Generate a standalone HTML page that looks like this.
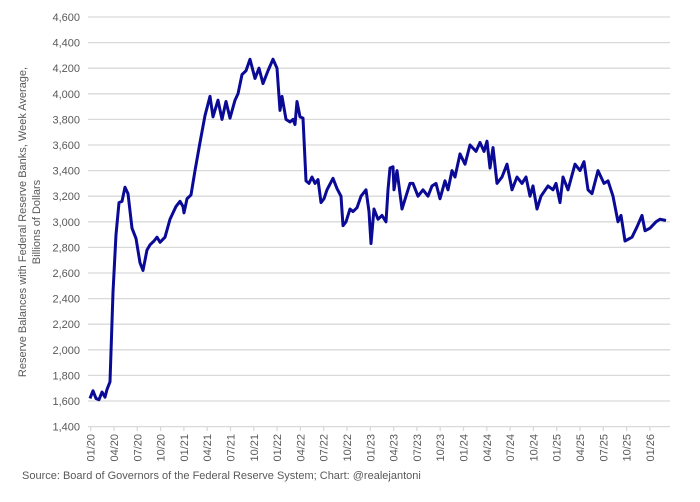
<!DOCTYPE html>
<html><head><meta charset="utf-8"><style>
html,body{margin:0;padding:0;background:#fff;}
svg text{font-family:"Liberation Sans",sans-serif;fill:#595959;}
</style></head><body>
<svg width="700" height="497" xmlns="http://www.w3.org/2000/svg">
<g stroke="#d9d9d9" stroke-width="1.3">
<line x1="88" x2="670" y1="17" y2="17"/><line x1="88" x2="670" y1="42.6" y2="42.6"/><line x1="88" x2="670" y1="68.2" y2="68.2"/><line x1="88" x2="670" y1="93.8" y2="93.8"/><line x1="88" x2="670" y1="119.4" y2="119.4"/><line x1="88" x2="670" y1="145" y2="145"/><line x1="88" x2="670" y1="170.6" y2="170.6"/><line x1="88" x2="670" y1="196.2" y2="196.2"/><line x1="88" x2="670" y1="221.8" y2="221.8"/><line x1="88" x2="670" y1="247.4" y2="247.4"/><line x1="88" x2="670" y1="273" y2="273"/><line x1="88" x2="670" y1="298.6" y2="298.6"/><line x1="88" x2="670" y1="324.2" y2="324.2"/><line x1="88" x2="670" y1="349.8" y2="349.8"/><line x1="88" x2="670" y1="375.4" y2="375.4"/><line x1="88" x2="670" y1="401" y2="401"/><line x1="88" x2="670" y1="426.6" y2="426.6"/>
<line x1="90.7" x2="90.7" y1="426.6" y2="431"/><line x1="114" x2="114" y1="426.6" y2="431"/><line x1="137.3" x2="137.3" y1="426.6" y2="431"/><line x1="160.6" x2="160.6" y1="426.6" y2="431"/><line x1="183.9" x2="183.9" y1="426.6" y2="431"/><line x1="207.2" x2="207.2" y1="426.6" y2="431"/><line x1="230.5" x2="230.5" y1="426.6" y2="431"/><line x1="253.8" x2="253.8" y1="426.6" y2="431"/><line x1="277.1" x2="277.1" y1="426.6" y2="431"/><line x1="300.4" x2="300.4" y1="426.6" y2="431"/><line x1="323.7" x2="323.7" y1="426.6" y2="431"/><line x1="347" x2="347" y1="426.6" y2="431"/><line x1="370.3" x2="370.3" y1="426.6" y2="431"/><line x1="393.6" x2="393.6" y1="426.6" y2="431"/><line x1="416.9" x2="416.9" y1="426.6" y2="431"/><line x1="440.2" x2="440.2" y1="426.6" y2="431"/><line x1="463.5" x2="463.5" y1="426.6" y2="431"/><line x1="486.8" x2="486.8" y1="426.6" y2="431"/><line x1="510.1" x2="510.1" y1="426.6" y2="431"/><line x1="533.4" x2="533.4" y1="426.6" y2="431"/><line x1="556.7" x2="556.7" y1="426.6" y2="431"/><line x1="580" x2="580" y1="426.6" y2="431"/><line x1="603.3" x2="603.3" y1="426.6" y2="431"/><line x1="626.6" x2="626.6" y1="426.6" y2="431"/><line x1="649.9" x2="649.9" y1="426.6" y2="431"/>
</g>
<g font-size="11" text-anchor="end">
<text x="80" y="21">4,600</text><text x="80" y="46.6">4,400</text><text x="80" y="72.2">4,200</text><text x="80" y="97.8">4,000</text><text x="80" y="123.4">3,800</text><text x="80" y="149">3,600</text><text x="80" y="174.6">3,400</text><text x="80" y="200.2">3,200</text><text x="80" y="225.8">3,000</text><text x="80" y="251.4">2,800</text><text x="80" y="277">2,600</text><text x="80" y="302.6">2,400</text><text x="80" y="328.2">2,200</text><text x="80" y="353.8">2,000</text><text x="80" y="379.4">1,800</text><text x="80" y="405">1,600</text><text x="80" y="430.6">1,400</text>
</g>
<g font-size="11" text-anchor="end">
<text transform="translate(94.7,434) rotate(-90)">01/20</text><text transform="translate(118,434) rotate(-90)">04/20</text><text transform="translate(141.3,434) rotate(-90)">07/20</text><text transform="translate(164.6,434) rotate(-90)">10/20</text><text transform="translate(187.9,434) rotate(-90)">01/21</text><text transform="translate(211.2,434) rotate(-90)">04/21</text><text transform="translate(234.5,434) rotate(-90)">07/21</text><text transform="translate(257.8,434) rotate(-90)">10/21</text><text transform="translate(281.1,434) rotate(-90)">01/22</text><text transform="translate(304.4,434) rotate(-90)">04/22</text><text transform="translate(327.7,434) rotate(-90)">07/22</text><text transform="translate(351,434) rotate(-90)">10/22</text><text transform="translate(374.3,434) rotate(-90)">01/23</text><text transform="translate(397.6,434) rotate(-90)">04/23</text><text transform="translate(420.9,434) rotate(-90)">07/23</text><text transform="translate(444.2,434) rotate(-90)">10/23</text><text transform="translate(467.5,434) rotate(-90)">01/24</text><text transform="translate(490.8,434) rotate(-90)">04/24</text><text transform="translate(514.1,434) rotate(-90)">07/24</text><text transform="translate(537.4,434) rotate(-90)">10/24</text><text transform="translate(560.7,434) rotate(-90)">01/25</text><text transform="translate(584,434) rotate(-90)">04/25</text><text transform="translate(607.3,434) rotate(-90)">07/25</text><text transform="translate(630.6,434) rotate(-90)">10/25</text><text transform="translate(653.9,434) rotate(-90)">01/26</text>
</g>
<text font-size="11" transform="translate(26,222) rotate(-90)" text-anchor="middle">Reserve Balances with Federal Reserve Banks, Week Average,</text>
<text font-size="11" transform="translate(40,222) rotate(-90)" text-anchor="middle">Billions of Dollars</text>
<text font-size="11" x="22" y="479">Source: Board of Governors of the Federal Reserve System; Chart: @realejantoni</text>
<g transform="matrix(1 0 0 -0.128 0 605.8)">
<polyline fill="none" stroke="#0a0a96" stroke-width="3" vector-effect="non-scaling-stroke" stroke-linejoin="round" points="90,1620 93,1680 96,1620 99,1610 102,1670 105,1630 107,1690 110,1750 113,2450 116,2900 119,3150 122,3160 125,3270 128,3220 132,2950 136,2870 140,2680 143,2620 147,2780 150,2820 154,2850 157,2880 160,2840 165,2880 170,3020 176,3120 180,3160 183,3120 184,3070 187,3180 191,3210 195,3400 200,3620 205,3830 210,3980 213,3820 218,3950 222,3800 226,3940 230,3810 235,3950 238,4000 242,4150 246,4180 250,4270 255,4120 259,4200 263,4080 268,4180 273,4270 277,4200 280,3870 282,3980 286,3800 290,3780 293,3800 295,3760 297,3940 300,3820 303,3810 306,3320 309,3300 312,3350 315,3300 318,3330 321,3150 324,3180 327,3250 333,3340 337,3260 341,3200 343,2970 346,3000 350,3100 353,3080 357,3110 361,3200 366,3250 369,3080 371,2830 374,3100 378,3020 382,3050 386,3000 388,3250 390,3420 393,3430 394,3250 397,3400 402,3100 406,3200 410,3300 413,3300 418,3200 423,3250 428,3200 432,3280 436,3300 440,3180 445,3320 448,3250 452,3400 455,3350 460,3530 465,3450 470,3600 476,3550 480,3620 484,3550 487,3630 490,3420 493,3580 497,3300 502,3350 507,3450 512,3250 517,3350 522,3300 526,3350 530,3200 533,3280 537,3100 541,3200 548,3280 553,3250 556,3300 560,3150 563,3350 568,3250 575,3450 580,3400 584,3470 588,3250 592,3220 598,3400 604,3300 608,3320 613,3200 618,3000 621,3050 625,2850 632,2880 637,2960 642,3050 645,2930 650,2950 656,3000 660,3020 666,3010"/>
</g>
</svg>
</body></html>
